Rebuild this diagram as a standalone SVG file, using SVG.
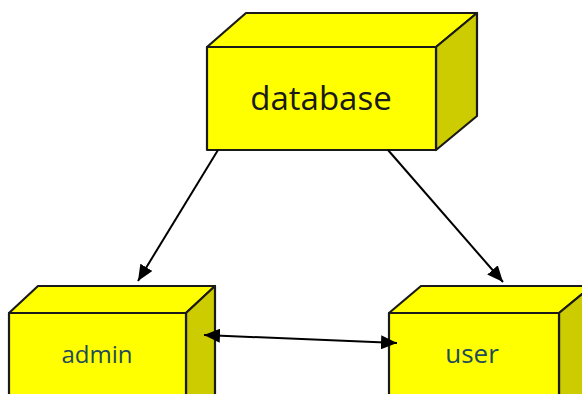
<svg xmlns="http://www.w3.org/2000/svg" width="582" height="394" viewBox="0 0 582 394">
  <style>
    .face { fill: #ffff00; stroke: #1a1a1a; stroke-width: 2.2; stroke-linejoin: round; }
    .side { fill: #cccc00; stroke: #1a1a1a; stroke-width: 2.2; stroke-linejoin: round; }
    .label { font-family: "Open Sans", "DejaVu Sans", sans-serif; text-anchor: middle; }
    .edge { stroke: #000; stroke-width: 2; fill: none; }
  </style>
  <defs>
    <marker id="arrow" viewBox="0 0 16 14" refX="16" refY="7" markerWidth="16" markerHeight="14" markerUnits="userSpaceOnUse" orient="auto-start-reverse">
      <path d="M0,0 L16,7 L0,14 z" fill="#000"/>
    </marker>
  </defs>
  <rect width="582" height="394" fill="#fff"/>

  <g id="database">
    <polygon class="face" points="207,47 246,13 477,13 436,47"/>
    <polygon class="side" points="436,47 477,13 477,116 436,150"/>
    <rect class="face" x="207" y="47" width="229" height="103"/>
    <text class="label" x="321" y="110" font-size="33" fill="#1a1a1a">database</text>
  </g>

  <g id="admin">
    <polygon class="face" points="9,313 38,286 215,286 186,313"/>
    <polygon class="side" points="186,313 215,286 215,400 186,400"/>
    <rect class="face" x="9" y="313" width="177" height="90"/>
    <text class="label" x="97" y="363" font-size="24" fill="#1f4b5a">admin</text>
  </g>

  <g id="user">
    <polygon class="face" points="389,313 421,286 592,286 559,313"/>
    <polygon class="side" points="559,313 592,286 592,400 559,400"/>
    <rect class="face" x="389" y="313" width="170" height="90"/>
    <text class="label" x="472" y="363" font-size="26" fill="#1f4b5a">user</text>
  </g>

  <g id="connectors">
    <line class="edge" x1="218" y1="150" x2="138" y2="281" marker-end="url(#arrow)"/>
    <line class="edge" x1="388" y1="150" x2="503" y2="282" marker-end="url(#arrow)"/>
    <line class="edge" x1="204" y1="335" x2="397" y2="343" marker-start="url(#arrow)" marker-end="url(#arrow)"/>
  </g>
</svg>
